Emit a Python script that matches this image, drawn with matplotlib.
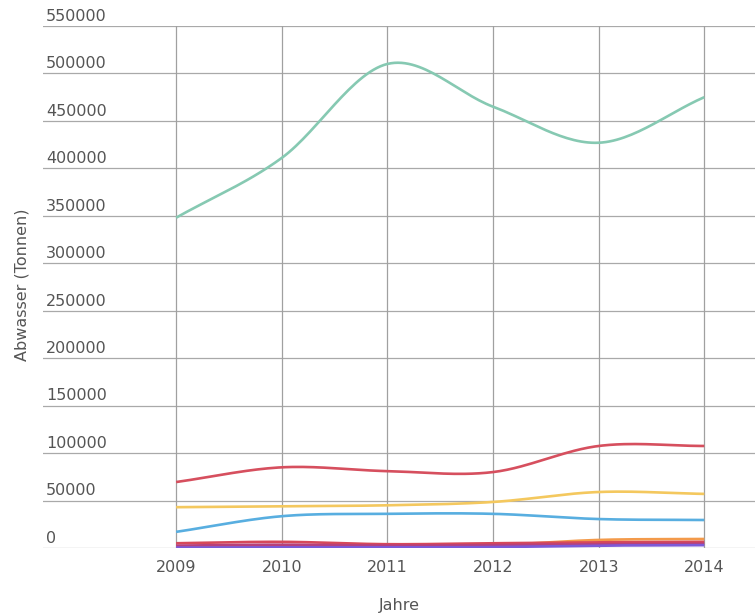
import numpy as np
import matplotlib.pyplot as plt
from matplotlib.transforms import blended_transform_factory

years = [2009, 2010, 2011, 2012, 2013, 2014]

# Abwasser in Tonnen
teal = [348000, 411000, 510000, 465000, 427000, 475000]
red = [69500, 85000, 81000, 80000, 107500, 107500]
yellow = [43000, 44000, 45000, 48500, 59000, 57000]
blue = [17000, 33500, 36000, 36000, 30500, 29500]
crimson = [5000, 6500, 4000, 5000, 6000, 6500]
magenta = [2500, 3500, 2500, 3000, 4000, 4500]
orange = [1500, 2500, 2000, 3000, 8500, 9500]
purple = [500, 800, 700, 1000, 2500, 3000]

series = [
    (teal, '#86c9b2'),
    (red, '#d64f5e'),
    (yellow, '#f4c85e'),
    (blue, '#58aee0'),
    (orange, '#f39a4a'),
    (crimson, '#d6485a'),
    (magenta, '#b8407a'),
    (purple, '#7c5ad8'),
]

y_ticks = list(range(0, 550001, 50000))


def smooth(x, y, n=30):
    '''Catmull-Rom style curve through the points (like curveType function).'''
    x = np.asarray(x, float)
    y = np.asarray(y, float)
    m = np.zeros_like(y)
    m[1:-1] = (y[2:] - y[:-2]) / (x[2:] - x[:-2])
    m[0] = (y[1] - y[0]) / (x[1] - x[0])
    m[-1] = (y[-1] - y[-2]) / (x[-1] - x[-2])
    xs, ys = [], []
    for i in range(len(x) - 1):
        h = x[i + 1] - x[i]
        t = np.linspace(0, 1, n, endpoint=(i == len(x) - 2))
        h00 = 2 * t**3 - 3 * t**2 + 1
        h10 = t**3 - 2 * t**2 + t
        h01 = -2 * t**3 + 3 * t**2
        h11 = t**3 - t**2
        xs.append(x[i] + t * h)
        ys.append(h00 * y[i] + h10 * h * m[i] + h01 * y[i + 1] + h11 * h * m[i + 1])
    return np.concatenate(xs), np.concatenate(ys)


fig = plt.figure(figsize=(7.55, 6.16), dpi=100)
ax = fig.add_axes([43 / 755, 68 / 616, 712 / 755, 522 / 616])

for vals, col in series:
    sx, sy = smooth(years, vals)
    ax.plot(sx, sy, color=col, lw=1.9, solid_capstyle='butt', zorder=3)

ax.set_xlim(2007.74, 2014.48)
ax.set_ylim(0, 550000)

for yv in y_ticks:
    ax.axhline(yv, color='#a9a9a9', lw=0.9, zorder=1)
for xv in years:
    ax.plot([xv, xv], [0, 550000], color='#a0a0a0', lw=0.9, zorder=1)

trans = blended_transform_factory(ax.transAxes, ax.transData)
for yv in y_ticks:
    ax.text(0.004, yv + 5500, str(yv), transform=trans, ha='left', va='baseline',
            fontsize=11.5, color='#555555', family='DejaVu Sans')

ax.set_xticks(years)
ax.set_xticklabels([str(y) for y in years], fontsize=11.5, color='#555555', family='DejaVu Sans')
ax.set_yticks([])
ax.tick_params(axis='x', length=0, pad=9)
for s in ax.spines.values():
    s.set_visible(False)

ax.set_xlabel('Jahre', fontsize=11.5, color='#555555', labelpad=16)
fig.text(22 / 755, 1 - 285 / 616, 'Abwasser (Tonnen)', rotation=90, ha='center', va='center',
         fontsize=11.5, color='#555555')

fig.savefig('out.png', dpi=100)
